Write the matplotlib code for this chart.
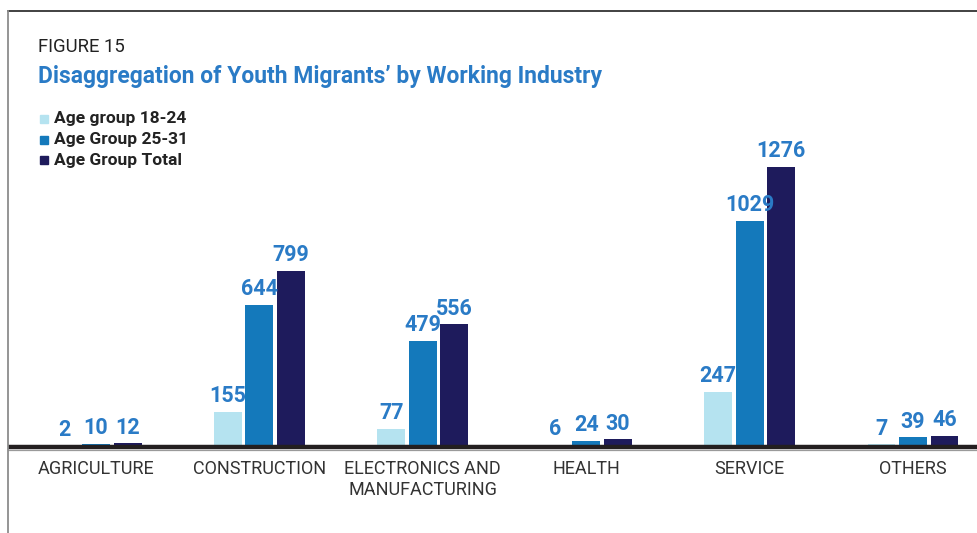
import matplotlib
matplotlib.use("Agg")
import matplotlib.pyplot as plt
from matplotlib.lines import Line2D
from matplotlib.patches import Rectangle
import numpy as np

plt.rcParams['font.family'] = ['Roboto', 'DejaVu Sans']

categories = ["AGRICULTURE", "CONSTRUCTION", "ELECTRONICS AND\nMANUFACTURING",
              "HEALTH", "SERVICE", "OTHERS"]
age_18_24 = [2, 155, 77, 6, 247, 7]
age_25_31 = [10, 644, 479, 24, 1029, 39]
age_total = [12, 799, 556, 30, 1276, 46]
series_names = ["Age group 18-24", "Age Group 25-31", "Age Group Total"]

colors = ["#b5e3f0", "#1479bb", "#1e1b5c"]
label_color = "#2a7bc6"
text_dark = "#222222"

W, H = 977, 533
fig = plt.figure(figsize=(W / 100, H / 100), dpi=100)

# axes placed in pixel terms: bars stand on y=446 px from the top
ax_left, ax_right = 8, 977
ax_bottom_px, ax_top_px = 446, 100
ax = fig.add_axes([ax_left / W, (H - ax_bottom_px) / H,
                   (ax_right - ax_left) / W, (ax_bottom_px - ax_top_px) / H])

x = np.arange(len(categories))
group_px = 163.4
bar_w = 28 / group_px
offset = 31.5 / group_px

for i, (vals, c) in enumerate(zip([age_18_24, age_25_31, age_total], colors)):
    pos = x + (i - 1) * offset
    ax.bar(pos, vals, width=bar_w, color=c, zorder=2)
    for xb, v in zip(pos, vals):
        ax.annotate(f"{v}", (xb, v), xytext=(0, 3.5), textcoords="offset points",
                    ha="center", va="bottom", fontsize=15.5, fontweight="bold",
                    color=label_color)

left_units = (96 - ax_left) / group_px
ax.set_xlim(-left_units, -left_units + (ax_right - ax_left) / group_px)
ax.set_ylim(0, (ax_bottom_px - ax_top_px) / (279 / 1276))

for s in ["top", "right", "left", "bottom"]:
    ax.spines[s].set_visible(False)
ax.set_yticks([])
ax.set_xticks(x)
ax.set_xticklabels(categories, fontsize=13, color="#333333", linespacing=1.2)
ax.tick_params(axis="x", length=0, pad=10)

# thick baseline under the bars, with a thin grey rule beneath
fig.add_artist(Line2D([ax_left / W, 1], [(H - 447.3) / H] * 2, color="#231f20",
                      lw=3.2, solid_capstyle="butt"))
fig.add_artist(Line2D([ax_left / W, 1], [(H - 450) / H] * 2, color="#9a9a9a", lw=0.9))

# frame: top rule and left rule
fig.add_artist(Line2D([7.5 / W, 1], [(H - 10.5) / H] * 2, color="#333333", lw=1.3))
fig.add_artist(Line2D([7.5 / W] * 2, [0, (H - 10.5) / H], color="#8c8c8c", lw=1.3))

# headings
fig.text(38 / W, (H - 47) / H, "FIGURE 15", fontsize=13.3, color=text_dark,
         va="center", ha="left")
fig.text(38 / W, (H - 76) / H, "Disaggregation of Youth Migrants\u2019 by Working Industry",
         fontsize=16.5, color=label_color, va="center", ha="left", fontweight="bold")

# legend
for k, (name, c) in enumerate(zip(series_names, colors)):
    yc = 119 + k * 20.5
    fig.add_artist(Rectangle((40 / W, (H - yc - 4) / H), 8 / W, 8 / H,
                             color=c, transform=fig.transFigure))
    fig.text(54 / W, (H - yc) / H, name, fontsize=12.5, fontweight="bold",
             color=text_dark, va="center", ha="left")

fig.savefig("out.png", dpi=100)
